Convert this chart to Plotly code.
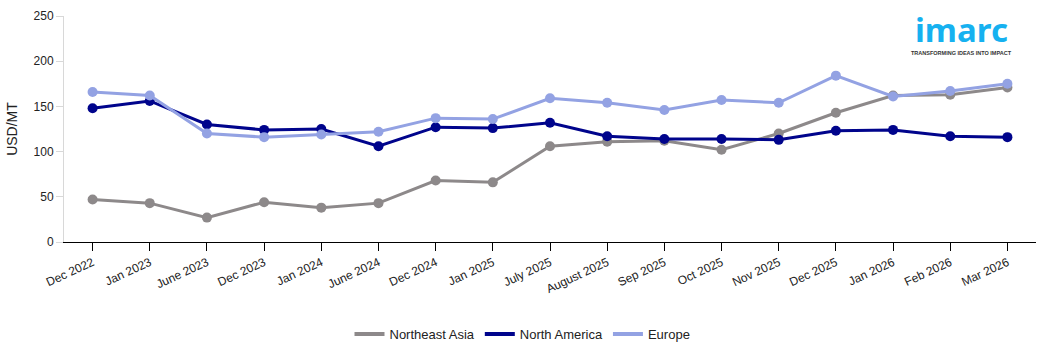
import plotly.graph_objects as go

categories = ["Dec 2022", "Jan 2023", "June 2023", "Dec 2023", "Jan 2024", "June 2024",
              "Dec 2024", "Jan 2025", "July 2025", "August 2025", "Sep 2025", "Oct 2025",
              "Nov 2025", "Dec 2025", "Jan 2026", "Feb 2026", "Mar 2026"]
northeast_asia = [47, 43, 27, 44, 38, 43, 68, 66, 106, 111, 112, 102, 120, 143, 162, 163, 171]
north_america = [148, 156, 130, 124, 125, 106, 127, 126, 132, 117, 114, 114, 113, 123, 124, 117, 116]
europe = [166, 162, 120, 116, 119, 122, 137, 136, 159, 154, 146, 157, 154, 184, 161, 167, 175]

series = [("Northeast Asia", northeast_asia, "#8d898a"),
          ("North America", north_america, "#00048c"),
          ("Europe", europe, "#93a2e3")]

fig = go.Figure()
for name, vals, col in series:
    fig.add_trace(go.Scatter(x=categories, y=vals, name=name, mode="lines+markers",
                             line=dict(color=col, width=3), showlegend=False,
                             legendgroup=name,
                             marker=dict(color=col, size=10)))
for name, vals, col in series:
    fig.add_trace(go.Scatter(x=[categories[0]], y=[None], name=name, mode="lines",
                             legendgroup=name,
                             line=dict(color=col, width=4)))

fig.update_layout(
    width=1045, height=352,
    margin=dict(l=64, r=9, t=11, b=110),
    paper_bgcolor="white", plot_bgcolor="white",
    font=dict(family="Liberation Sans, Arial, sans-serif", size=12, color="#222"),
    showlegend=True,
    legend=dict(orientation="h", xref="container", yref="container", x=0.5, xanchor="center",
                y=0.051, yanchor="middle", font=dict(size=13, color="#222"),
                itemwidth=30),
    xaxis=dict(type="category", showgrid=False, showline=True, linecolor="#000", linewidth=1,
               ticks="outside", ticklen=8, tickcolor="#000", tickangle=-25,
               tickfont=dict(size=12, color="#222"), range=[-0.5, 16.5]),
    yaxis=dict(range=[0, 250], tickvals=[0, 50, 100, 150, 200, 250], showgrid=False,
               showline=True, linecolor="#d8d8d8", linewidth=1, ticks="outside",
               ticklen=7, tickcolor="#d8d8d8", zeroline=False,
               title=dict(text="USD/MT", font=dict(size=14, color="#222"), standoff=12),
               tickfont=dict(size=12, color="#222")),
)

fig.add_annotation(xref="paper", yref="paper", x=0.923, y=1.05, xanchor="center", yanchor="top",
                   text="<b>imarc</b>", showarrow=False,
                   font=dict(family="Noto Sans, Arial", size=33, color="#16b1f0"))
fig.add_annotation(xref="paper", yref="paper", x=0.923, y=0.86, xanchor="center", yanchor="top",
                   text="<b>TRANSFORMING IDEAS INTO IMPACT</b>", showarrow=False,
                   font=dict(family="Liberation Sans, Arial", size=5.5, color="#333"))

fig.write_html("out.html")
